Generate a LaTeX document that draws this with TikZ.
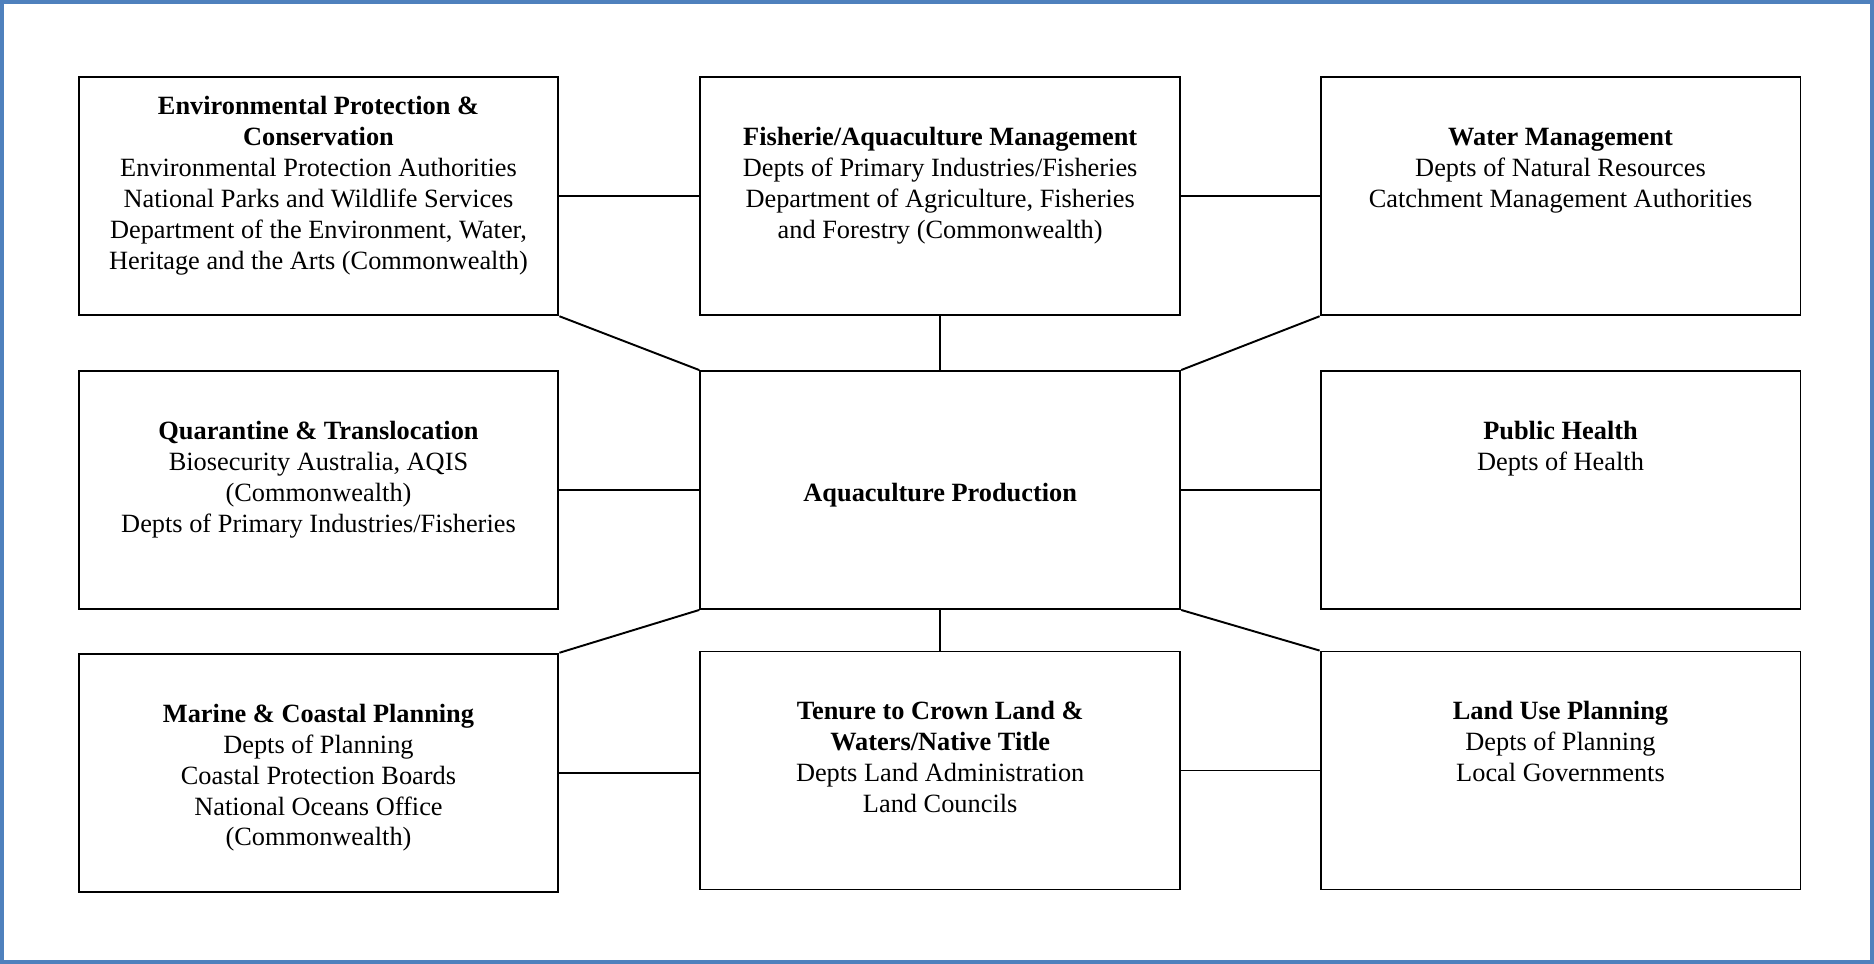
\documentclass[tikz,border=0pt]{standalone}
\usepackage{fontspec}
\setmainfont{Liberation Serif}
\usetikzlibrary{positioning}
\definecolor{frameblue}{RGB}{79,129,189}

\begin{document}
\begin{tikzpicture}[x=0.02cm,y=-0.02cm,
  box/.style={draw,line width=1.1pt,minimum width=9.6cm,minimum height=4.76cm,inner sep=0pt},
  txt/.style={align=center,anchor=base,inner sep=0pt,font=\fontsize{15}{17.6}\selectfont},
  link/.style={line width=1.1pt}]
% Frame
\useasboundingbox (0,0) rectangle (1874,964);
\draw[frameblue,line width=0.09cm] (2,2) rectangle (1872,962);
% Boxes
\node[box] (env) at (318.5,196.3) {};
\node[box] (fish) at (940.2,196.3) {};
\node[box] (water) at (1560.5,196.3) {};
\node[box] (quar) at (318.5,490) {};
\node[box] (aqua) at (940.2,490) {};
\node[box] (health) at (1560.5,490) {};
\node[box] (marine) at (318.5,772.7) {};
\node[box] (tenure) at (940.2,770.5) {};
\node[box] (land) at (1560.5,770.5) {};
% Texts (anchored at the baseline of their last line)
\node[txt] (envtxt) at ([yshift=-3.864cm]env.north) {\textbf{Environmental Protection \&}\\\textbf{Conservation}\\Environmental Protection Authorities\\National Parks and Wildlife Services\\Department of the Environment, Water,\\Heritage and the Arts (Commonwealth)};
\node[txt] (fishtxt) at ([yshift=-3.244cm]fish.north) {\textbf{Fisherie/Aquaculture Management}\\Depts of Primary Industries/Fisheries\\Department of Agriculture, Fisheries\\and Forestry (Commonwealth)};
\node[txt] (watertxt) at ([yshift=-2.624cm]water.north) {\textbf{Water Management}\\Depts of Natural Resources\\Catchment Management Authorities};
\node[txt] (quartxt) at ([yshift=-3.244cm]quar.north) {\textbf{Quarantine \& Translocation}\\Biosecurity Australia, AQIS\\(Commonwealth)\\Depts of Primary Industries/Fisheries};
\node[txt] (aquatxt) at ([yshift=-2.624cm]aqua.north) {\textbf{Aquaculture Production}};
\node[txt] (healthtxt) at ([yshift=-2.004cm]health.north) {\textbf{Public Health}\\Depts of Health};
\node[txt] (marinetxt) at ([yshift=-3.864cm]marine.north) {\textbf{Marine \& Coastal Planning}\\Depts of Planning\\Coastal Protection Boards\\National Oceans Office\\(Commonwealth)};
\node[txt] (tenuretxt) at ([yshift=-3.244cm]tenure.north) {\textbf{Tenure to Crown Land \&}\\\textbf{Waters/Native Title}\\Depts Land Administration\\Land Councils};
\node[txt] (landtxt) at ([yshift=-2.624cm]land.north) {\textbf{Land Use Planning}\\Depts of Planning\\Local Governments};
% Connectors
\draw[link] (env.east) -- (fish.west);
\draw[link] (fish.east) -- (water.west);
\draw[link] (fish.south) -- (aqua.north);
\draw[link] (env.south east) -- (aqua.north west);
\draw[link] (water.south west) -- (aqua.north east);
\draw[link] (quar.east) -- (aqua.west);
\draw[link] (aqua.east) -- (health.west);
\draw[link] (aqua.south west) -- (marine.north east);
\draw[link] (aqua.south) -- (tenure.north);
\draw[link] (aqua.south east) -- (land.north west);
\draw[link] (marine.east) -- (marine.east -| tenure.west);
\draw[link] (tenure.east) -- (land.west);
\end{tikzpicture}
\end{document}
